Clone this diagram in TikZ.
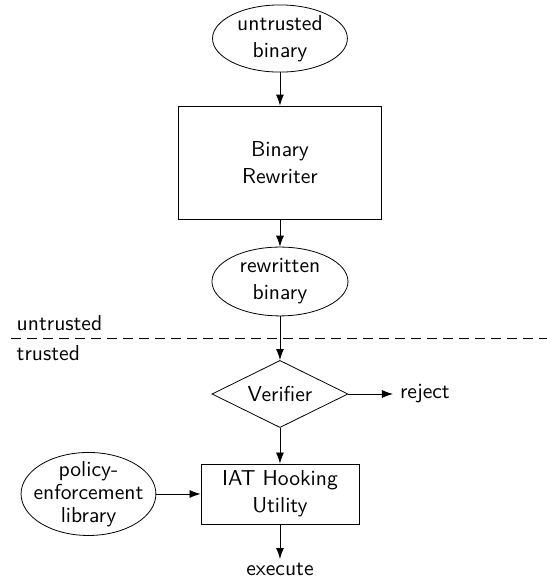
\documentclass[tikz,border=0pt]{standalone}
\usetikzlibrary{shapes.geometric, arrows.meta}

\tikzset{
    every node/.style={font=\sffamily\fontsize{10.8}{13.4}\selectfont, align=center},
    io/.style={draw, ellipse, inner sep=0pt, minimum width=2.37cm, minimum height=1.18cm},
    block/.style={draw, rectangle, inner sep=0pt},
    check/.style={draw, diamond, aspect=2, inner sep=0pt, minimum width=2.39cm, minimum height=1.18cm}
}

\begin{document}
\begin{tikzpicture}[>={Latex[length=5.5pt,width=4pt]}]
        \useasboundingbox (0, 0) rectangle (9.612, 10.140);

        % untrusted side
        \node[io] (untrusted) at (4.92, 9.463) {untrusted\\binary};
        \node[block, minimum width=3.567cm, minimum height=1.986cm] (rewriter) at (4.92, 7.284) {Binary\\Rewriter};
        \node[io, minimum width=2.39cm, minimum height=1.21cm] (rewritten) at (4.92, 5.193) {rewritten\\binary};

        % trust boundary
        \coordinate (lineL) at (0.193, 4.200);
        \coordinate (lineR) at (9.612, 4.200);
        \draw[dashed, dash pattern=on 5pt off 3pt] (lineL) -- (lineR);
        \node[anchor=base west] (untrustedlbl) at (0.17, 4.340) {untrusted};
        \node[anchor=base west] (trustedlbl) at (0.17, 3.813) {trusted};

        % trusted side
        \node[check] (verifier) at (4.92, 3.216) {Verifier};
        \node[anchor=west] (reject) at (6.906, 3.216) {reject};
        \node[block, minimum width=2.777cm, minimum height=1.054cm] (iat) at (4.92, 1.459) {IAT Hooking\\Utility};
        \node[io, inner xsep=-4.5pt, inner ysep=-4pt, minimum height=1.459cm,
              font=\sffamily\fontsize{10.8}{11.6}\selectfont] (policy) at (1.555, 1.459) {policy-\\enforcement\\library};
        \node[anchor=north, inner ysep=2pt] (execute) at (4.92, 0.316) {execute};

        \draw[->] (untrusted) -- (rewriter);
        \draw[->] (rewriter) -- (rewritten);
        \draw[->] (rewritten) -- (verifier);
        \draw[->] (verifier) -- (reject);
        \draw[->] (verifier) -- (iat);
        \draw[->] (policy) -- (iat);
        \draw[->] (iat) -- (execute);
    \end{tikzpicture}
\end{document}
